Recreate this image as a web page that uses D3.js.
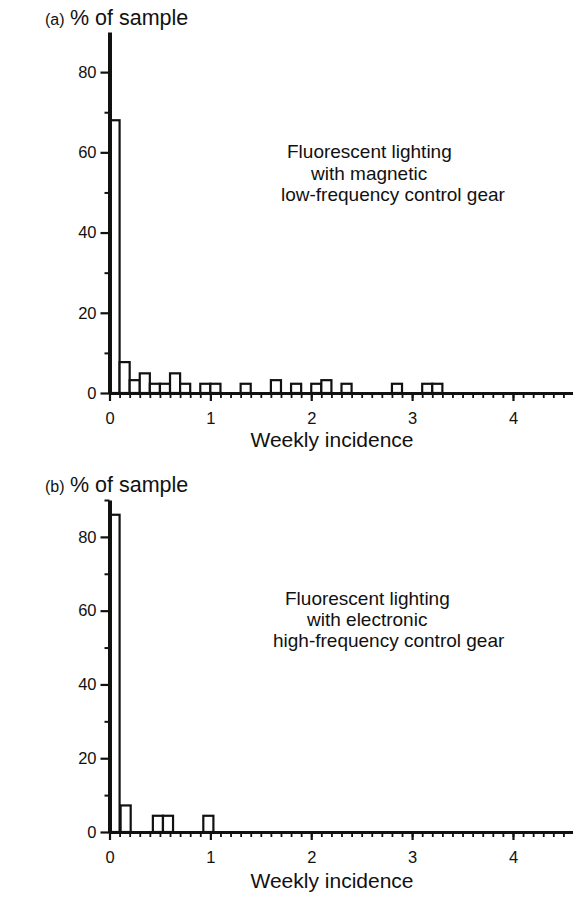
<!DOCTYPE html>
<html>
<head>
<meta charset="utf-8">
<script src="https://cdn.jsdelivr.net/npm/d3@7"></script>
<style>
  body { margin: 0; background: #fff; }
  svg { display: block; }
  text { font-family: "Liberation Sans", Arial, Helvetica, sans-serif; fill: #111; }
</style>
</head>
<body>
<svg id="chart" width="573" height="905"></svg>
<script>
// ---------- data ----------
// bin start (weekly incidence), each bin 0.1 wide; values = % of sample
const binsA   = [0.0, 0.1, 0.2, 0.3, 0.4, 0.5, 0.6, 0.7, 0.9, 1.0, 1.3, 1.6, 1.8, 2.0, 2.1, 2.3, 2.8, 3.1, 3.2];
const valuesA = [68.0, 7.7, 3.2, 4.9, 2.3, 2.3, 4.9, 2.3, 2.3, 2.3, 2.3, 3.2, 2.3, 2.3, 3.2, 2.3, 2.3, 2.3, 2.3];
const binsB   = [0.0, 0.11, 0.43, 0.53, 0.93];
const valuesB = [86.0, 7.2, 4.4, 4.4, 4.4];
const binWidth = 0.1;

const xMajorTicks = [0, 1, 2, 3, 4];
const yMajorTicks = [0, 20, 40, 60, 80];
const yMinorTicksA = [10, 30, 50, 70];
const yMinorTicksB = [10, 30, 50, 70, 90];

const labelA = "(a)";
const labelB = "(b)";
const yTitle = "% of sample";
const xTitle = "Weekly incidence";
const noteA = ["Fluorescent lighting", "with magnetic", "low-frequency control gear"];
const noteB = ["Fluorescent lighting", "with electronic", "high-frequency control gear"];

// ---------- drawing ----------
const svg = d3.select("#chart");
const xMinorTicks = d3.range(0, 46).map(i => i / 10);
const FONT = '"Liberation Sans", Arial, sans-serif';

function panel(cfg) {
  const g = svg.append("g");
  const x = d3.scaleLinear().domain([0, 4.6]).range([109.5, 573.5]);
  const y = d3.scaleLinear().domain([0, 90]).range([cfg.y0, cfg.yTop]);

  // bars
  g.selectAll("rect.bar").data(cfg.bins.map((b, i) => ({b, v: cfg.values[i]})))
    .join("rect")
    .attr("class", "bar")
    .attr("x", d => x(d.b))
    .attr("width", d => x(d.b + binWidth) - x(d.b))
    .attr("y", d => y(d.v))
    .attr("height", d => y(0) - y(d.v))
    .attr("fill", "#fff")
    .attr("stroke", "#111")
    .attr("stroke-width", 2.2);

  // x axis minor
  const xMinor = g.append("g").attr("transform", `translate(0,${cfg.y0})`)
    .call(d3.axisBottom(x).tickValues(xMinorTicks).tickSize(5).tickSizeOuter(0).tickFormat(""));
  xMinor.select(".domain").attr("stroke", "#111").attr("stroke-width", 3);
  xMinor.selectAll(".tick line").attr("stroke", "#111").attr("stroke-width", 1.8);

  // x axis major
  const xMajor = g.append("g").attr("transform", `translate(0,${cfg.y0})`)
    .call(d3.axisBottom(x).tickValues(xMajorTicks).tickSize(8).tickSizeOuter(0).tickPadding(11).tickFormat(d3.format("d")));
  xMajor.select(".domain").remove();
  xMajor.selectAll(".tick line").attr("stroke", "#111").attr("stroke-width", 2.2);
  xMajor.selectAll(".tick text").attr("font-size", 16.5).attr("fill", "#111")
    .style("font-family", FONT);

  // y axis minor
  const yMinor = g.append("g").attr("transform", `translate(109.5,0)`)
    .call(d3.axisLeft(y).tickValues(cfg.yMinor).tickSize(5).tickSizeOuter(0).tickFormat(""));
  yMinor.select(".domain").attr("stroke", "#111").attr("stroke-width", 4);
  yMinor.selectAll(".tick line").attr("stroke", "#111").attr("stroke-width", 2);

  // y axis major
  const yMajor = g.append("g").attr("transform", `translate(109.5,0)`)
    .call(d3.axisLeft(y).tickValues(yMajorTicks).tickSize(9).tickSizeOuter(0).tickPadding(4).tickFormat(d3.format("d")));
  yMajor.select(".domain").remove();
  yMajor.selectAll(".tick line").attr("stroke", "#111").attr("stroke-width", 2.2);
  yMajor.selectAll(".tick text").attr("font-size", 16.5).attr("fill", "#111")
    .style("font-family", FONT);

  // panel label and y title
  g.append("text").attr("x", 45).attr("y", cfg.titleY).attr("font-size", 16).text(cfg.label);
  g.append("text").attr("x", 70).attr("y", cfg.titleY).attr("font-size", 21.5).text(yTitle);

  // x title
  g.append("text").attr("x", 332).attr("y", cfg.xTitleY).attr("text-anchor", "middle")
    .attr("font-size", 21).text(xTitle);

  // annotation
  cfg.note.forEach((t, i) => {
    g.append("text").attr("x", cfg.noteX[i]).attr("y", cfg.noteY[i])
      .attr("font-size", 19).text(t);
  });
}

panel({
  bins: binsA, values: valuesA, y0: 393, yTop: 32, yMinor: yMinorTicksA,
  label: labelA, titleY: 25, xTitleY: 447,
  note: noteA, noteX: [287, 311, 281], noteY: [158, 180, 201]
});
panel({
  bins: binsB, values: valuesB, y0: 832, yTop: 500, yMinor: yMinorTicksB,
  label: labelB, titleY: 492, xTitleY: 888,
  note: noteB, noteX: [285, 307, 273], noteY: [605, 626, 647]
});
</script>
</body>
</html>
